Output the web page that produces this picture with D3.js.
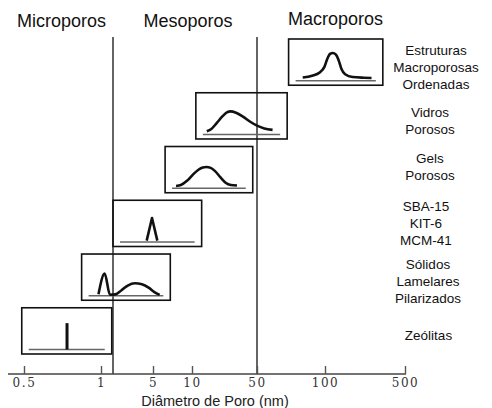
<!DOCTYPE html>
<html>
<head>
<meta charset="utf-8">
<script src="https://cdn.jsdelivr.net/npm/d3@7"></script>
<style>
  body { margin: 0; background: #fff; }
  svg { display: block; }
</style>
</head>
<body>
<svg></svg>
<script>
// data
var materials = [
    ['Estruturas', 'Macroporosas', 'Ordenadas'],
    ['Vidros', 'Porosos'],
    ['Gels', 'Porosos'],
    ['SBA-15', 'KIT-6', 'MCM-41'],
    ['Sólidos', 'Lamelares', 'Pilarizados'],
    ['Zeólitas']
]
var poreMin = [69, 11, 6.2, 2, 0.84, 0.49]     // nm
var poreMax = [320, 68, 45, 12.7, 6.8, 1.86]   // nm
var regionNames = ['Microporos', 'Mesoporos', 'Macroporos']
var regionLimits = [2, 50]                     // nm
var tickValues = [0.5, 1, 5, 10, 50, 100, 500]

// distribution shapes, [position across box, height] in box units
var profiles = [
    [[0.15, 0.07], [0.25, 0.11], [0.33, 0.18], [0.38, 0.30], [0.41, 0.47], [0.44, 0.58], [0.47, 0.60],
     [0.50, 0.57], [0.53, 0.45], [0.56, 0.26], [0.60, 0.14], [0.68, 0.08], [0.80, 0.065], [0.88, 0.06]],
    [[0.12, 0.07], [0.17, 0.12], [0.23, 0.25], [0.29, 0.39], [0.34, 0.48], [0.38, 0.50], [0.44, 0.47],
     [0.52, 0.38], [0.60, 0.27], [0.67, 0.19], [0.75, 0.13], [0.84, 0.10]],
    [[0.125, 0.05], [0.18, 0.07], [0.25, 0.16], [0.32, 0.30], [0.38, 0.40], [0.43, 0.45], [0.47, 0.46],
     [0.52, 0.44], [0.57, 0.37], [0.63, 0.24], [0.69, 0.12], [0.75, 0.07], [0.82, 0.06]],
    [[0.38, 0.03], [0.44, 0.52], [0.50, 0.03]],
    [[0.19, 0.03], [0.26, 0.48], [0.32, 0.02], [0.38, 0.03], [0.45, 0.12], [0.52, 0.22], [0.60, 0.27],
     [0.68, 0.25], [0.76, 0.17], [0.82, 0.08], [0.88, 0.02]],
    [[0.503, 0], [0.503, 0.57]]
]
var sharp = [false, false, false, true, false, true]

// label fine placement (dx, dy) around the row centre
var labelNudge = [[6, 4.5], [0, 4.5], [0, -3.5], [-4, -0.5], [-2, 3.5], [-1.5, 4.5]]

var svgWidth = 492, svgHeight = 408
var svg = d3.select('svg')
    .attr('width', svgWidth)
    .attr('height', svgHeight)

// the original axis is hand drawn, so a piecewise log scale follows its spacing
var x = d3.scaleLog()
    .domain([0.5, 1, 2, 5, 10, 50, 100, 500])
    .range([24, 101, 113, 153, 192, 257, 325, 405])

var y = d3.scaleBand()
    .domain(d3.range(materials.length))
    .range([39, 354])
    .paddingInner(0.14)

var axisY = 374

// region boundaries
svg.selectAll('.limit')
    .data(regionLimits)
    .enter()
    .append('line')
    .attr('x1', function(d) { return x(d) })
    .attr('x2', function(d) { return x(d) })
    .attr('y1', 37)
    .attr('y2', axisY)
    .attr('stroke', '#111')
    .attr('stroke-width', 1.3)

// region titles
var regionCentres = [61.5, 188, 335.5]
var regionBase = [27, 27, 25]
svg.selectAll('.region')
    .data(regionNames)
    .enter()
    .append('text')
    .attr('x', function(d, i) { return regionCentres[i] })
    .attr('y', function(d, i) { return regionBase[i] })
    .attr('text-anchor', 'middle')
    .style('font-family', 'Liberation Sans, Arial, sans-serif')
    .style('font-size', '18px')
    .attr('fill', '#111')
    .text(function(d) { return d })

// one group per material
var rows = svg.selectAll('.row')
    .data(materials)
    .enter()
    .append('g')
    .attr('transform', function(d, i) { return 'translate(' + x(poreMin[i]) + ',' + y(i) + ')' })

rows.append('rect')
    .attr('width', function(d, i) { return x(poreMax[i]) - x(poreMin[i]) })
    .attr('height', y.bandwidth())
    .attr('fill', 'none')
    .attr('stroke', '#111')
    .attr('stroke-width', 1.6)

rows.each(function(d, i) {
    var g = d3.select(this)
    var w = x(poreMax[i]) - x(poreMin[i])
    var h = y.bandwidth()
    var base = h - 4.5
    var u = d3.scaleLinear().domain([0, 1]).range([0, w])
    var v = d3.scaleLinear().domain([0, 1]).range([base, base - h])

    g.append('line')
        .attr('x1', 7)
        .attr('x2', w - 7)
        .attr('y1', base)
        .attr('y2', base)
        .attr('stroke', '#666')
        .attr('stroke-width', 1.6)

    var line = d3.line()
        .x(function(p) { return u(p[0]) })
        .y(function(p) { return v(p[1]) })
        .curve(sharp[i] ? d3.curveLinear : d3.curveMonotoneX)

    g.append('path')
        .attr('d', line(profiles[i]))
        .attr('fill', 'none')
        .attr('stroke', '#111')
        .attr('stroke-width', i == 5 ? 3 : 2.6)
        .attr('stroke-linejoin', 'round')
})

// material names on the right
var labelX = 430, lineHeight = 17
materials.forEach(function(lines, i) {
    var mid = y(i) + y.bandwidth() / 2 + labelNudge[i][1]
    svg.append('text')
        .attr('text-anchor', 'middle')
        .style('font-family', 'Liberation Sans, Arial, sans-serif')
        .style('font-size', '13.5px')
        .attr('fill', '#111')
        .selectAll('tspan')
        .data(lines)
        .enter()
        .append('tspan')
        .attr('x', labelX + labelNudge[i][0])
        .attr('y', function(t, k) { return mid + (k - (lines.length - 1) / 2) * lineHeight + 5 })
        .text(function(t) { return t })
})

// axis
svg.append('line')
    .attr('x1', 8)
    .attr('x2', 406)
    .attr('y1', axisY)
    .attr('y2', axisY)
    .attr('stroke', '#444')
    .attr('stroke-width', 1.4)

var axis = svg.append('g')
    .attr('transform', 'translate(0,' + axisY + ')')
    .call(d3.axisBottom(x)
        .tickValues(tickValues)
        .tickFormat(function(d) { return String(d) })
        .tickSizeInner(-8)
        .tickSizeOuter(0)
        .tickPadding(4.5))

axis.select('.domain').remove()
axis.selectAll('.tick line')
    .attr('stroke', '#555')
    .attr('stroke-width', 1.4)
axis.selectAll('.tick text')
    .attr('fill', '#333')
    .style('font-family', 'DejaVu Serif, serif')
    .style('font-size', '12px')
    .style('letter-spacing', '1.6px')

svg.append('text')
    .attr('x', 215)
    .attr('y', 406)
    .attr('text-anchor', 'middle')
    .style('font-family', 'Liberation Sans, Arial, sans-serif')
    .style('font-size', '14.5px')
    .attr('fill', '#222')
    .text('Diâmetro de Poro (nm)')
</script>
</body>
</html>
